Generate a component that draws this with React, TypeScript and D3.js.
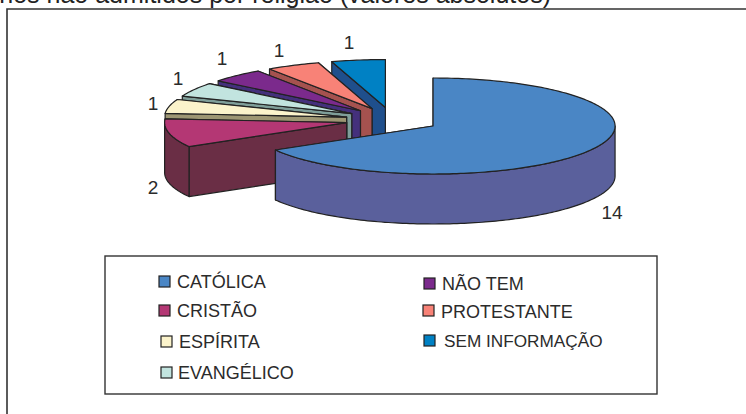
import { useEffect, useRef } from 'react'
import * as d3 from 'd3'

const categories = ['CATÓLICA', 'CRISTÃO', 'ESPÍRITA', 'EVANGÉLICO', 'NÃO TEM', 'PROTESTANTE', 'SEM INFORMAÇÃO']
const values = [14, 2, 1, 1, 1, 1, 1]
const topColors = ['#4a86c5', '#b43774', '#fbf3cb', '#c2e4df', '#7b2a8c', '#f88277', '#0081c4']
const sideColors = ['#5a609c', '#6a2e45', '#9d9673', '#7f9e99', '#44307c', '#a5524f', '#1f4f8c']
const title = 'Alunos não admitidos por religião (valores absolutos)'

// where the label sits for each slice (baseline)
const labelPos = [[612, 219], [153, 194], [153, 110], [178, 85], [222, 65], [279, 57], [349, 49]]
// legend layout: swatch x, swatch y, text x, baseline, font size
const legendPos = [
  [159, 276, 177, 288, 18],
  [159, 305, 177, 317, 18],
  [161, 336, 179, 348, 18],
  [161, 367, 178, 379, 18],
  [424, 278, 442, 290, 18],
  [423, 305, 441, 318, 18],
  [424, 335, 444, 347, 17.2],
]

const FONT = '"Liberation Sans", Arial, sans-serif'
const cx = 392.4
const cy = 119.8
const rx = 182
const ry = 48
const depth = 50
const explode = 0.258

export default function App() {
  const svgRef = useRef<SVGSVGElement>(null)

  useEffect(() => {
    if (!svgRef.current) return
    const svg = d3.select(svgRef.current)
    svg.selectAll('*').remove()

    svg.append('rect').attr('width', 746).attr('height', 414).attr('fill', '#fff')

    // the title is cropped by the top of the picture, as in the scan
    svg.append('text')
      .attr('x', 551).attr('y', 3)
      .attr('text-anchor', 'end')
      .attr('font-family', FONT)
      .attr('font-size', 25)
      .attr('fill', '#222')
      .text(title)

    // outer frame only shows on top and left, the rest is cropped
    svg.append('path')
      .attr('d', 'M7,414V9H746')
      .attr('fill', 'none')
      .attr('stroke', '#333')
      .attr('stroke-width', 1.6)

    const pie = d3.pie<number>().value(d => d).sort(null)
    const arcs = pie(values)
    const line = d3.line<[number, number]>()

    // back slices first, CATÓLICA goes on top
    const order = [6, 5, 4, 3, 2, 1, 0]
    const strokeAttrs = (sel: any) => sel
      .attr('stroke', '#222')
      .attr('stroke-width', 1.2)
      .attr('stroke-linejoin', 'round')

    order.forEach(i => {
      const a = arcs[i]
      const mid = (a.startAngle + a.endAngle) / 2
      const ax = cx + explode * rx * Math.sin(mid)
      const ay = cy - explode * ry * Math.cos(mid)
      const pt = (t: number): [number, number] => [ax + rx * Math.sin(t), ay - ry * Math.cos(t)]
      const down = (p: [number, number]): [number, number] => [p[0], p[1] + depth]
      const sweep = (t0: number, t1: number) => {
        const n = Math.max(2, Math.ceil((t1 - t0) / 0.02))
        return d3.range(n + 1).map(k => pt(t0 + ((t1 - t0) * k) / n))
      }
      const g = svg.append('g')

      // radial walls
      ;[a.endAngle, a.startAngle].forEach(t => {
        const p = pt(t)
        const wall: [number, number][] = [[ax, ay], p, down(p), [ax, ay + depth]]
        g.append('path').attr('d', line(wall) + 'Z').attr('fill', sideColors[i]).call(strokeAttrs)
      })

      // rim, only the part facing the viewer
      const t0 = Math.max(a.startAngle, Math.PI / 2)
      const t1 = Math.min(a.endAngle, (3 * Math.PI) / 2)
      if (t1 > t0) {
        const edge = sweep(t0, t1)
        const rim = [...edge, ...edge.map(down).reverse()]
        g.append('path').attr('d', line(rim) + 'Z').attr('fill', sideColors[i]).call(strokeAttrs)
      }

      // top face
      const top: [number, number][] = [[ax, ay], ...sweep(a.startAngle, a.endAngle)]
      g.append('path').attr('d', line(top) + 'Z').attr('fill', topColors[i]).call(strokeAttrs)
    })

    // value labels
    values.forEach((v, i) => {
      svg.append('text')
        .attr('x', labelPos[i][0]).attr('y', labelPos[i][1])
        .attr('text-anchor', 'middle')
        .attr('font-family', FONT)
        .attr('font-size', 19)
        .attr('fill', '#2b2b2b')
        .text(v)
    })

    // legend
    svg.append('rect')
      .attr('x', 105).attr('y', 256)
      .attr('width', 552).attr('height', 138)
      .attr('fill', '#fff')
      .attr('stroke', '#333')
      .attr('stroke-width', 1.4)

    categories.forEach((c, i) => {
      const [sx, sy, tx, ty, fs] = legendPos[i]
      svg.append('rect')
        .attr('x', sx).attr('y', sy)
        .attr('width', 11).attr('height', 11)
        .attr('fill', topColors[i])
        .attr('stroke', '#222')
        .attr('stroke-width', 1.2)
      svg.append('text')
        .attr('x', tx).attr('y', ty)
        .attr('font-family', FONT)
        .attr('font-size', fs)
        .attr('fill', '#2b2b2b')
        .text(c)
    })
  }, [])

  return <svg ref={svgRef} width={746} height={414} style={{ position: 'absolute', left: 0, top: 0 }} />
}
